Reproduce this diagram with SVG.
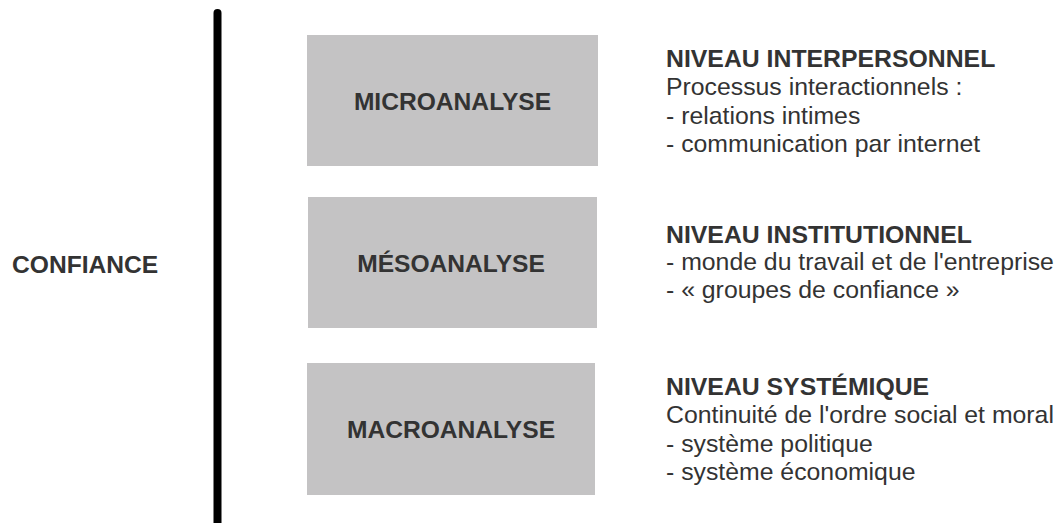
<svg xmlns="http://www.w3.org/2000/svg" width="1061" height="523" viewBox="0 0 1061 523">
<style>
.box{fill:#c4c3c4}
.lbl{font-family:"Liberation Sans",Arial,sans-serif;font-weight:bold;font-size:24.6px;fill:#333;text-anchor:middle}
.head{font-family:"Liberation Sans",Arial,sans-serif;font-weight:bold;font-size:24.8px;fill:#333}
.txt{font-family:"Liberation Sans",Arial,sans-serif;font-size:24.8px;fill:#333}
</style>
<rect width="1061" height="523" fill="#fff"/>
<g id="connectors">
<line x1="217.5" y1="13" x2="217.5" y2="530" stroke="#000" stroke-width="8" stroke-linecap="round"/>
</g>
<g id="confiance">
<text x="12" y="273" class="head" style="font-size:24.6px">CONFIANCE</text>
</g>
<g id="micro">
<rect class="box" x="307" y="35" width="291" height="131"/>
<text class="lbl" x="452.5" y="110">MICROANALYSE</text>
</g>
<g id="meso">
<rect class="box" x="308" y="197" width="289" height="131"/>
<text class="lbl" x="451" y="272">MÉSOANALYSE</text>
</g>
<g id="macro">
<rect class="box" x="307" y="363" width="288" height="132"/>
<text class="lbl" x="451" y="438">MACROANALYSE</text>
</g>
<g id="niveau-interpersonnel">
<text class="head" x="666" y="67">NIVEAU INTERPERSONNEL</text>
<text class="txt" x="666" y="95">Processus interactionnels :</text>
<text class="txt" x="666" y="124">- relations intimes</text>
<text class="txt" x="666" y="152">- communication par internet</text>
</g>
<g id="niveau-institutionnel">
<text class="head" x="666" y="243">NIVEAU INSTITUTIONNEL</text>
<text class="txt" x="666" y="270">- monde du travail et de l'entreprise</text>
<text class="txt" x="666" y="298">- « groupes de confiance »</text>
</g>
<g id="niveau-systemique">
<text class="head" x="666" y="395">NIVEAU SYSTÉMIQUE</text>
<text class="txt" x="666" y="423">Continuité de l'ordre social et moral</text>
<text class="txt" x="666" y="452">- système politique</text>
<text class="txt" x="666" y="480">- système économique</text>
</g>
</svg>
